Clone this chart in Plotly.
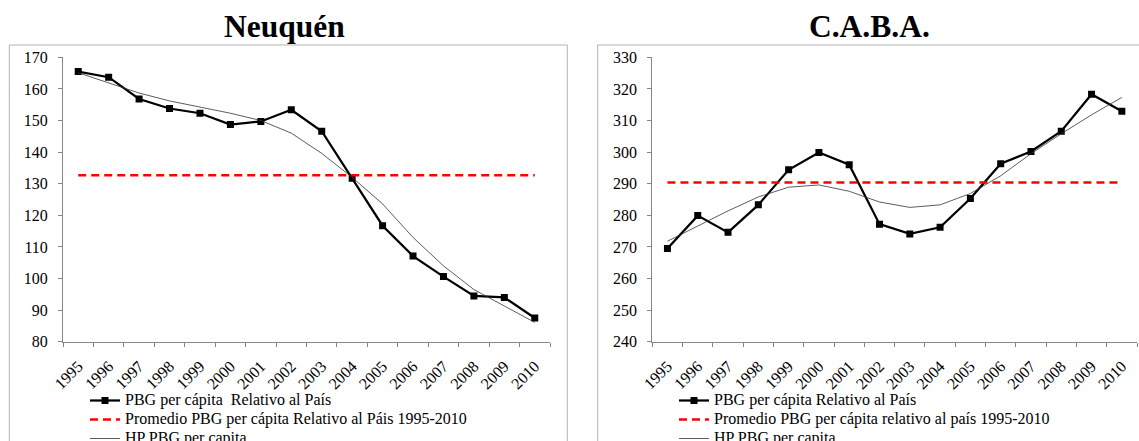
import plotly.graph_objects as go

# Years on the category axis
years = [str(y) for y in range(1995, 2011)]

# Neuquén: PBG per cápita relative to the country (index)
neuquen_pbg = [165.5, 163.7, 156.8, 153.8, 152.3, 148.7, 149.7, 153.4,
               146.6, 131.7, 116.7, 107.1, 100.6, 94.5, 94.0, 87.5]
neuquen_avg = [132.7] * 16
neuquen_hp = [165.1, 161.9, 158.7, 156.2, 154.2, 152.3, 150.0, 146.0,
              139.6, 132.0, 123.6, 113.0, 104.0, 96.5, 91.3, 86.1]

# C.A.B.A.: PBG per cápita relative to the country (index)
caba_pbg = [269.5, 279.9, 274.6, 283.3, 294.4, 299.9, 296.0, 277.2,
            274.1, 276.2, 285.3, 296.3, 300.2, 306.6, 318.3, 312.9]
caba_avg = [290.4] * 16
caba_hp = [271.8, 276.7, 281.4, 285.8, 288.9, 289.6, 287.6, 284.2,
           282.5, 283.3, 286.9, 292.5, 299.5, 305.8, 311.8, 317.3]

FONT = "Liberation Serif"
W, H = 1139, 441
AXIS_GRAY = "#868686"
FRAME_GRAY = "#b3b3b3"


def px_x(v):
    return v / W


def px_y(v):
    return 1 - v / H


def legend_label(text):
    # Legend rows are spaced from the legend font size; the label itself
    # is drawn larger so the rows stay compact.
    return f'<span style="font-size:16px">{text}</span>'


fig = go.Figure()

panels = [
    ("x", "y", "legend", neuquen_pbg, neuquen_avg, neuquen_hp,
     "PBG per cápita  Relativo al País",
     "Promedio PBG per cápita Relativo al Páis 1995-2010"),
    ("x2", "y2", "legend2", caba_pbg, caba_avg, caba_hp,
     "PBG per cápita Relativo al País",
     "Promedio PBG per cápita relativo al país 1995-2010"),
]

for xa, ya, leg, pbg, avg, hp, name_pbg, name_avg in panels:
    fig.add_trace(go.Scatter(
        x=years, y=pbg, xaxis=xa, yaxis=ya, legend=leg,
        name=legend_label(name_pbg),
        mode="lines+markers",
        line=dict(color="black", width=2.25),
        marker=dict(symbol="square", size=7, color="black"),
    ))
    fig.add_trace(go.Scatter(
        x=years, y=avg, xaxis=xa, yaxis=ya, legend=leg,
        name=legend_label(name_avg),
        mode="lines",
        line=dict(color="#ff0000", width=2.5, dash="8px,5px"),
    ))
    fig.add_trace(go.Scatter(
        x=years, y=hp, xaxis=xa, yaxis=ya, legend=leg,
        name=legend_label("HP PBG per capita"),
        mode="lines",
        line=dict(color="#333333", width=0.8),
    ))

plot_bottom, plot_top = 341.7, 57.3
ydom = [px_y(plot_bottom), px_y(plot_top)]

common_x = dict(
    type="category", range=[-0.5, 15.5], tickson="boundaries",
    ticks="outside", ticklen=4, tickcolor=AXIS_GRAY, tickwidth=1,
    showline=True, linecolor=AXIS_GRAY, linewidth=1, showgrid=False,
    zeroline=False, tickangle=-45, ticklabelstandoff=8,
    tickfont=dict(family=FONT, size=16, color="black"),
)
common_y = dict(
    ticks="outside", ticklen=4, tickcolor=AXIS_GRAY, tickwidth=1,
    showline=True, linecolor=AXIS_GRAY, linewidth=1, showgrid=False,
    zeroline=False, dtick=10, ticklabelstandoff=7,
    tickfont=dict(family=FONT, size=16, color="black"),
)

legend_style = dict(
    xanchor="left", yanchor="top",
    font=dict(family=FONT, size=12.3, color="black"), tracegroupgap=0,
    bgcolor="rgba(0,0,0,0)", itemwidth=30,
)

fig.update_layout(
    width=W, height=H,
    margin=dict(l=0, r=0, t=0, b=0, autoexpand=False),
    paper_bgcolor="white", plot_bgcolor="white",
    font=dict(family=FONT, color="black"),
    xaxis=dict(common_x, domain=[px_x(63), px_x(550)], anchor="y"),
    yaxis=dict(common_y, domain=ydom, range=[80, 170], anchor="x"),
    xaxis2=dict(common_x, domain=[px_x(652.3), px_x(1137)], anchor="y2"),
    yaxis2=dict(common_y, domain=ydom, range=[240, 330], anchor="x2"),
    legend=dict(legend_style, x=px_x(85), y=px_y(386)),
    legend2=dict(legend_style, x=px_x(674), y=px_y(386)),
    showlegend=True,
)

# Chart-area frames
fig.add_shape(type="rect", xref="paper", yref="paper",
              x0=px_x(9.3), x1=px_x(567.3), y0=px_y(460), y1=px_y(45),
              line=dict(color=FRAME_GRAY, width=1), layer="below")
fig.add_shape(type="rect", xref="paper", yref="paper",
              x0=px_x(597.7), x1=px_x(1150), y0=px_y(460), y1=px_y(45),
              line=dict(color=FRAME_GRAY, width=1), layer="below")

# Panel titles
for text, cx in [("Neuquén", 284), ("C.A.B.A.", 869)]:
    fig.add_annotation(
        text=f"<b>{text}</b>", xref="paper", yref="paper",
        x=px_x(cx), y=px_y(26), xanchor="center", yanchor="middle",
        showarrow=False, font=dict(family=FONT, size=31.5, color="black"),
    )

fig.write_html("out.html")
